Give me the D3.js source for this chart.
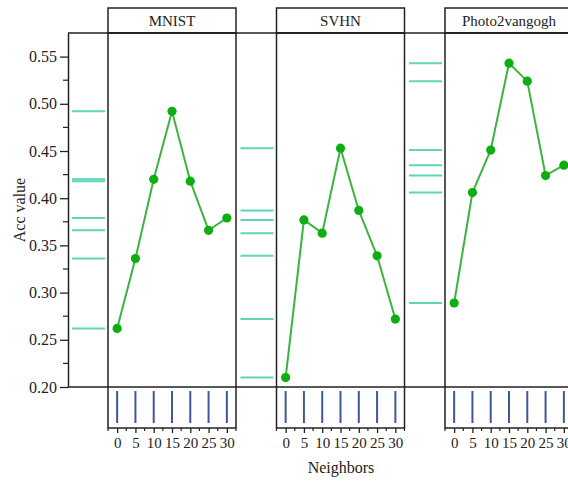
<!DOCTYPE html>
<html>
<head>
<meta charset="utf-8">
<script src="https://cdn.jsdelivr.net/npm/d3@7"></script>
<style>
  body { margin: 0; background: #fff; }
  svg { font-family: "Liberation Serif", "Times New Roman", serif; }
</style>
</head>
<body>
<svg id="chart" width="568" height="484"></svg>
<script>
const neighbors = [0, 5, 10, 15, 20, 25, 30]
const datasets = ["MNIST", "SVHN", "Photo2vangogh"]
const mnistAcc = [0.262, 0.336, 0.420, 0.492, 0.418, 0.366, 0.379]
const svhnAcc = [0.210, 0.377, 0.363, 0.453, 0.387, 0.339, 0.272]
const photoAcc = [0.289, 0.406, 0.451, 0.543, 0.524, 0.424, 0.435]
const yTicks = [0.20, 0.25, 0.30, 0.35, 0.40, 0.45, 0.50, 0.55]
const xTicks = [0, 5, 10, 15, 20, 25, 30]

const series = [mnistAcc, svhnAcc, photoAcc]

const LEFT = 68
const TOP = 33
const BOTTOM = 387
const RUG_W = 40
const PANEL_W = 128
const PITCH = 168.5
const RUG_BOTTOM = 428
const HEADER_TOP = 8
const INK = "#222"

const svg = d3.select("#chart")

let yScale = d3.scaleLinear().domain([0.2, 0.575]).range([BOTTOM, TOP])

// left y axis
let yAxis = d3.axisLeft(yScale)
  .tickValues(yTicks)
  .tickFormat(d3.format(".2f"))
  .tickSize(8)
  .tickSizeOuter(0)
let yg = svg.append("g")
  .attr("transform", `translate(${LEFT},0)`)
  .call(yAxis)
yg.select(".domain").attr("stroke", INK).attr("stroke-width", 1.5)
yg.selectAll(".tick line").attr("stroke", INK).attr("stroke-width", 1.3)
yg.selectAll(".tick text").attr("font-size", 16).attr("fill", INK).attr("x", -11)
  .attr("font-family", "Liberation Serif")

// minor ticks
let minor = yTicks.slice(0, -1).map(v => v + 0.025)
yg.selectAll(".minor").data(minor).enter().append("line")
  .attr("x1", -5).attr("x2", 0)
  .attr("y1", d => yScale(d)).attr("y2", d => yScale(d))
  .attr("stroke", INK).attr("stroke-width", 1.2)

svg.append("text")
  .attr("transform", `translate(25,${(TOP + BOTTOM) / 2}) rotate(-90)`)
  .attr("text-anchor", "middle")
  .attr("font-size", 16)
  .attr("fill", INK)
  .text("Acc value")

// top and bottom horizontal lines
svg.append("line").attr("x1", LEFT).attr("x2", 568).attr("y1", TOP).attr("y2", TOP)
  .attr("stroke", INK).attr("stroke-width", 1.5)
svg.append("line").attr("x1", LEFT).attr("x2", 568).attr("y1", BOTTOM).attr("y2", BOTTOM)
  .attr("stroke", INK).attr("stroke-width", 1.5)

datasets.forEach((name, i) => {
  let x0 = LEFT + i * PITCH
  let px = x0 + RUG_W
  let vals = series[i]

  // rug of y values
  svg.append("g").selectAll("line").data(vals).enter().append("line")
    .attr("x1", x0 + 4).attr("x2", x0 + 37)
    .attr("y1", d => yScale(d)).attr("y2", d => yScale(d))
    .attr("stroke", "#5fd6b8").attr("stroke-width", 2)

  let xScale = d3.scaleLinear().domain([-2.5, 32.5]).range([px, px + PANEL_W])

  // header box
  svg.append("rect")
    .attr("x", px).attr("y", HEADER_TOP)
    .attr("width", PANEL_W).attr("height", TOP - HEADER_TOP)
    .attr("fill", "none").attr("stroke", INK).attr("stroke-width", 1.5)
  svg.append("text")
    .attr("x", px + PANEL_W / 2).attr("y", HEADER_TOP + 18)
    .attr("text-anchor", "middle")
    .attr("font-size", 15)
    .attr("fill", INK)
    .text(name)

  // panel box
  svg.append("rect")
    .attr("x", px).attr("y", TOP)
    .attr("width", PANEL_W).attr("height", RUG_BOTTOM - TOP)
    .attr("fill", "none").attr("stroke", INK).attr("stroke-width", 1.5)

  // rug of x values
  svg.append("g").selectAll("line").data(neighbors).enter().append("line")
    .attr("x1", d => xScale(d)).attr("x2", d => xScale(d))
    .attr("y1", BOTTOM + 4).attr("y2", RUG_BOTTOM - 5)
    .attr("stroke", "#3d5a94").attr("stroke-width", 2)

  // x axis
  let xAxis = d3.axisBottom(xScale).tickValues(xTicks).tickSize(5).tickSizeOuter(0)
  let xg = svg.append("g").attr("transform", `translate(0,${RUG_BOTTOM})`).call(xAxis)
  xg.select(".domain").remove()
  xg.selectAll(".tick line").attr("stroke", INK).attr("stroke-width", 1.3)
  xg.selectAll(".tick text").attr("font-size", 15).attr("fill", INK).attr("y", 9)
    .attr("font-family", "Liberation Serif")
  let xMinor = [-2.5, 2.5, 7.5, 12.5, 17.5, 22.5, 27.5, 32.5]
  xg.selectAll(".minor").data(xMinor).enter().append("line")
    .attr("x1", d => xScale(d)).attr("x2", d => xScale(d))
    .attr("y1", 0).attr("y2", 3)
    .attr("stroke", INK).attr("stroke-width", 1.2)

  // line + points
  let pts = neighbors.map((n, j) => [n, vals[j]])
  svg.append("path")
    .datum(pts)
    .attr("d", d3.line().x(d => xScale(d[0])).y(d => yScale(d[1])))
    .attr("fill", "none").attr("stroke", "#3cb43c").attr("stroke-width", 2)
  svg.append("g").selectAll("circle").data(pts).enter().append("circle")
    .attr("cx", d => xScale(d[0])).attr("cy", d => yScale(d[1]))
    .attr("r", 4.6).attr("fill", "#0cae12")
})

svg.append("text")
  .attr("x", 341).attr("y", 473)
  .attr("text-anchor", "middle")
  .attr("font-size", 16)
  .attr("fill", INK)
  .text("Neighbors")
</script>
</body>
</html>
